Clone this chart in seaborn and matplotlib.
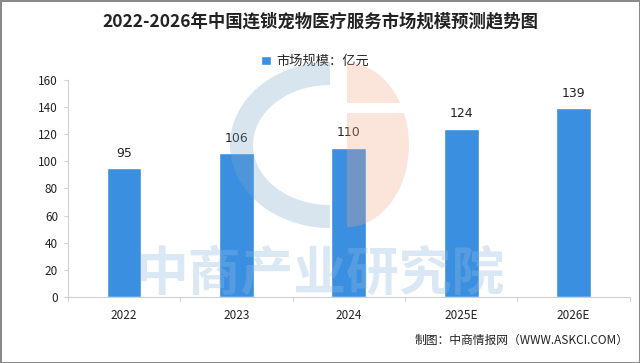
import matplotlib
matplotlib.use("Agg")
import matplotlib.pyplot as plt
import numpy as np
import pandas as pd
import seaborn as sns

years = ["2022", "2023", "2024", "2025E", "2026E"]
market_size = [95, 106, 110, 124, 139]
title = "2022-2026年中国连锁宠物医疗服务市场规模预测趋势图"
legend_label = "市场规模：亿元"
source = "制图：中商情报网（WWW.ASKCI.COM）"
watermark = "中商产业研究院"

sns.set_theme(style="white")
plt.rcParams['font.family'] = ['Noto Sans CJK SC', 'DejaVu Sans']

df = pd.DataFrame({"year": years, "value": market_size, "series": legend_label})

fig = plt.figure(figsize=(6.4, 3.63), dpi=100)
fig.patch.set_edgecolor("#8a8a8a")
fig.patch.set_linewidth(2)
ax = fig.add_axes([0.106, 0.182, 0.878, 0.598])

sns.barplot(data=df, x="year", y="value", hue="series", palette=["#3a8fe0"],
            width=0.31, ax=ax, saturation=1)

for c in ax.containers:
    ax.bar_label(c, fmt="%d", padding=6, fontsize=9, color="#222222",
                 family="DejaVu Sans")

ax.set_ylim(0, 160)
ax.set_yticks(range(0, 161, 20))
ax.set_xlabel("")
ax.set_ylabel("")
ax.tick_params(axis="y", labelsize=8.5, labelcolor="#222222", color="#d0d0d0",
               length=3, width=0.8, left=True, pad=4)
ax.tick_params(axis="x", labelsize=8.5, labelcolor="#222222", bottom=False, pad=3)
for x in [-0.5, 0.5, 1.5, 2.5, 3.5, 4.5]:
    ax.plot([x, x], [0, -3], color="#d0d0d0", lw=0.8, clip_on=False)
ax.set_xlim(-0.5, 4.5)
for s in ["top", "right"]:
    ax.spines[s].set_visible(False)
for s in ["left", "bottom"]:
    ax.spines[s].set_color("#d0d0d0")
    ax.spines[s].set_linewidth(0.8)

ax.legend(loc="upper center", bbox_to_anchor=(0.44, 1.17), frameon=False,
          fontsize=9.5, handlelength=0.7, handleheight=0.7, handletextpad=0.4)

# logo watermark overlay in pixel coordinates
ov = fig.add_axes([0, 0, 1, 1], zorder=5)
ov.set_xlim(0, 640)
ov.set_ylim(363, 0)
ov.axis("off")
ov.patch.set_alpha(0)
t = np.linspace(np.pi / 2, 3 * np.pi / 2, 60)
cx, cy = 330, 145
outer = np.c_[cx + 100 * np.cos(t), cy - 83 * np.sin(t)]
inner = np.c_[cx + 77 * np.cos(t[::-1]), cy - 60 * np.sin(t[::-1])]
ov.fill(*np.r_[outer, inner].T, color="#7fa6c9", alpha=0.3, lw=0)
t2 = np.linspace(-np.pi / 2, np.pi / 2, 60)
half = np.c_[347 + 62 * np.cos(t2), cy - 82 * np.sin(t2)]
ov.fill(*half.T, color="#f2a98a", alpha=0.3, lw=0)
ov.fill([347, 405, 405, 347], [103, 103, 113, 113], color="white", lw=0)
ov.text(320, 274, watermark, fontsize=38, color="#8fb7e0", alpha=0.33,
        ha="center", va="center", fontweight="bold")

fig.text(0.5, 0.94, title, ha="center", va="center", fontsize=12.5,
         fontweight="bold", color="#222222")
fig.text(0.982, 0.062, source, ha="right", va="center", fontsize=8.5, color="#222222")

fig.savefig("out.png", dpi=100, edgecolor=fig.get_edgecolor())
